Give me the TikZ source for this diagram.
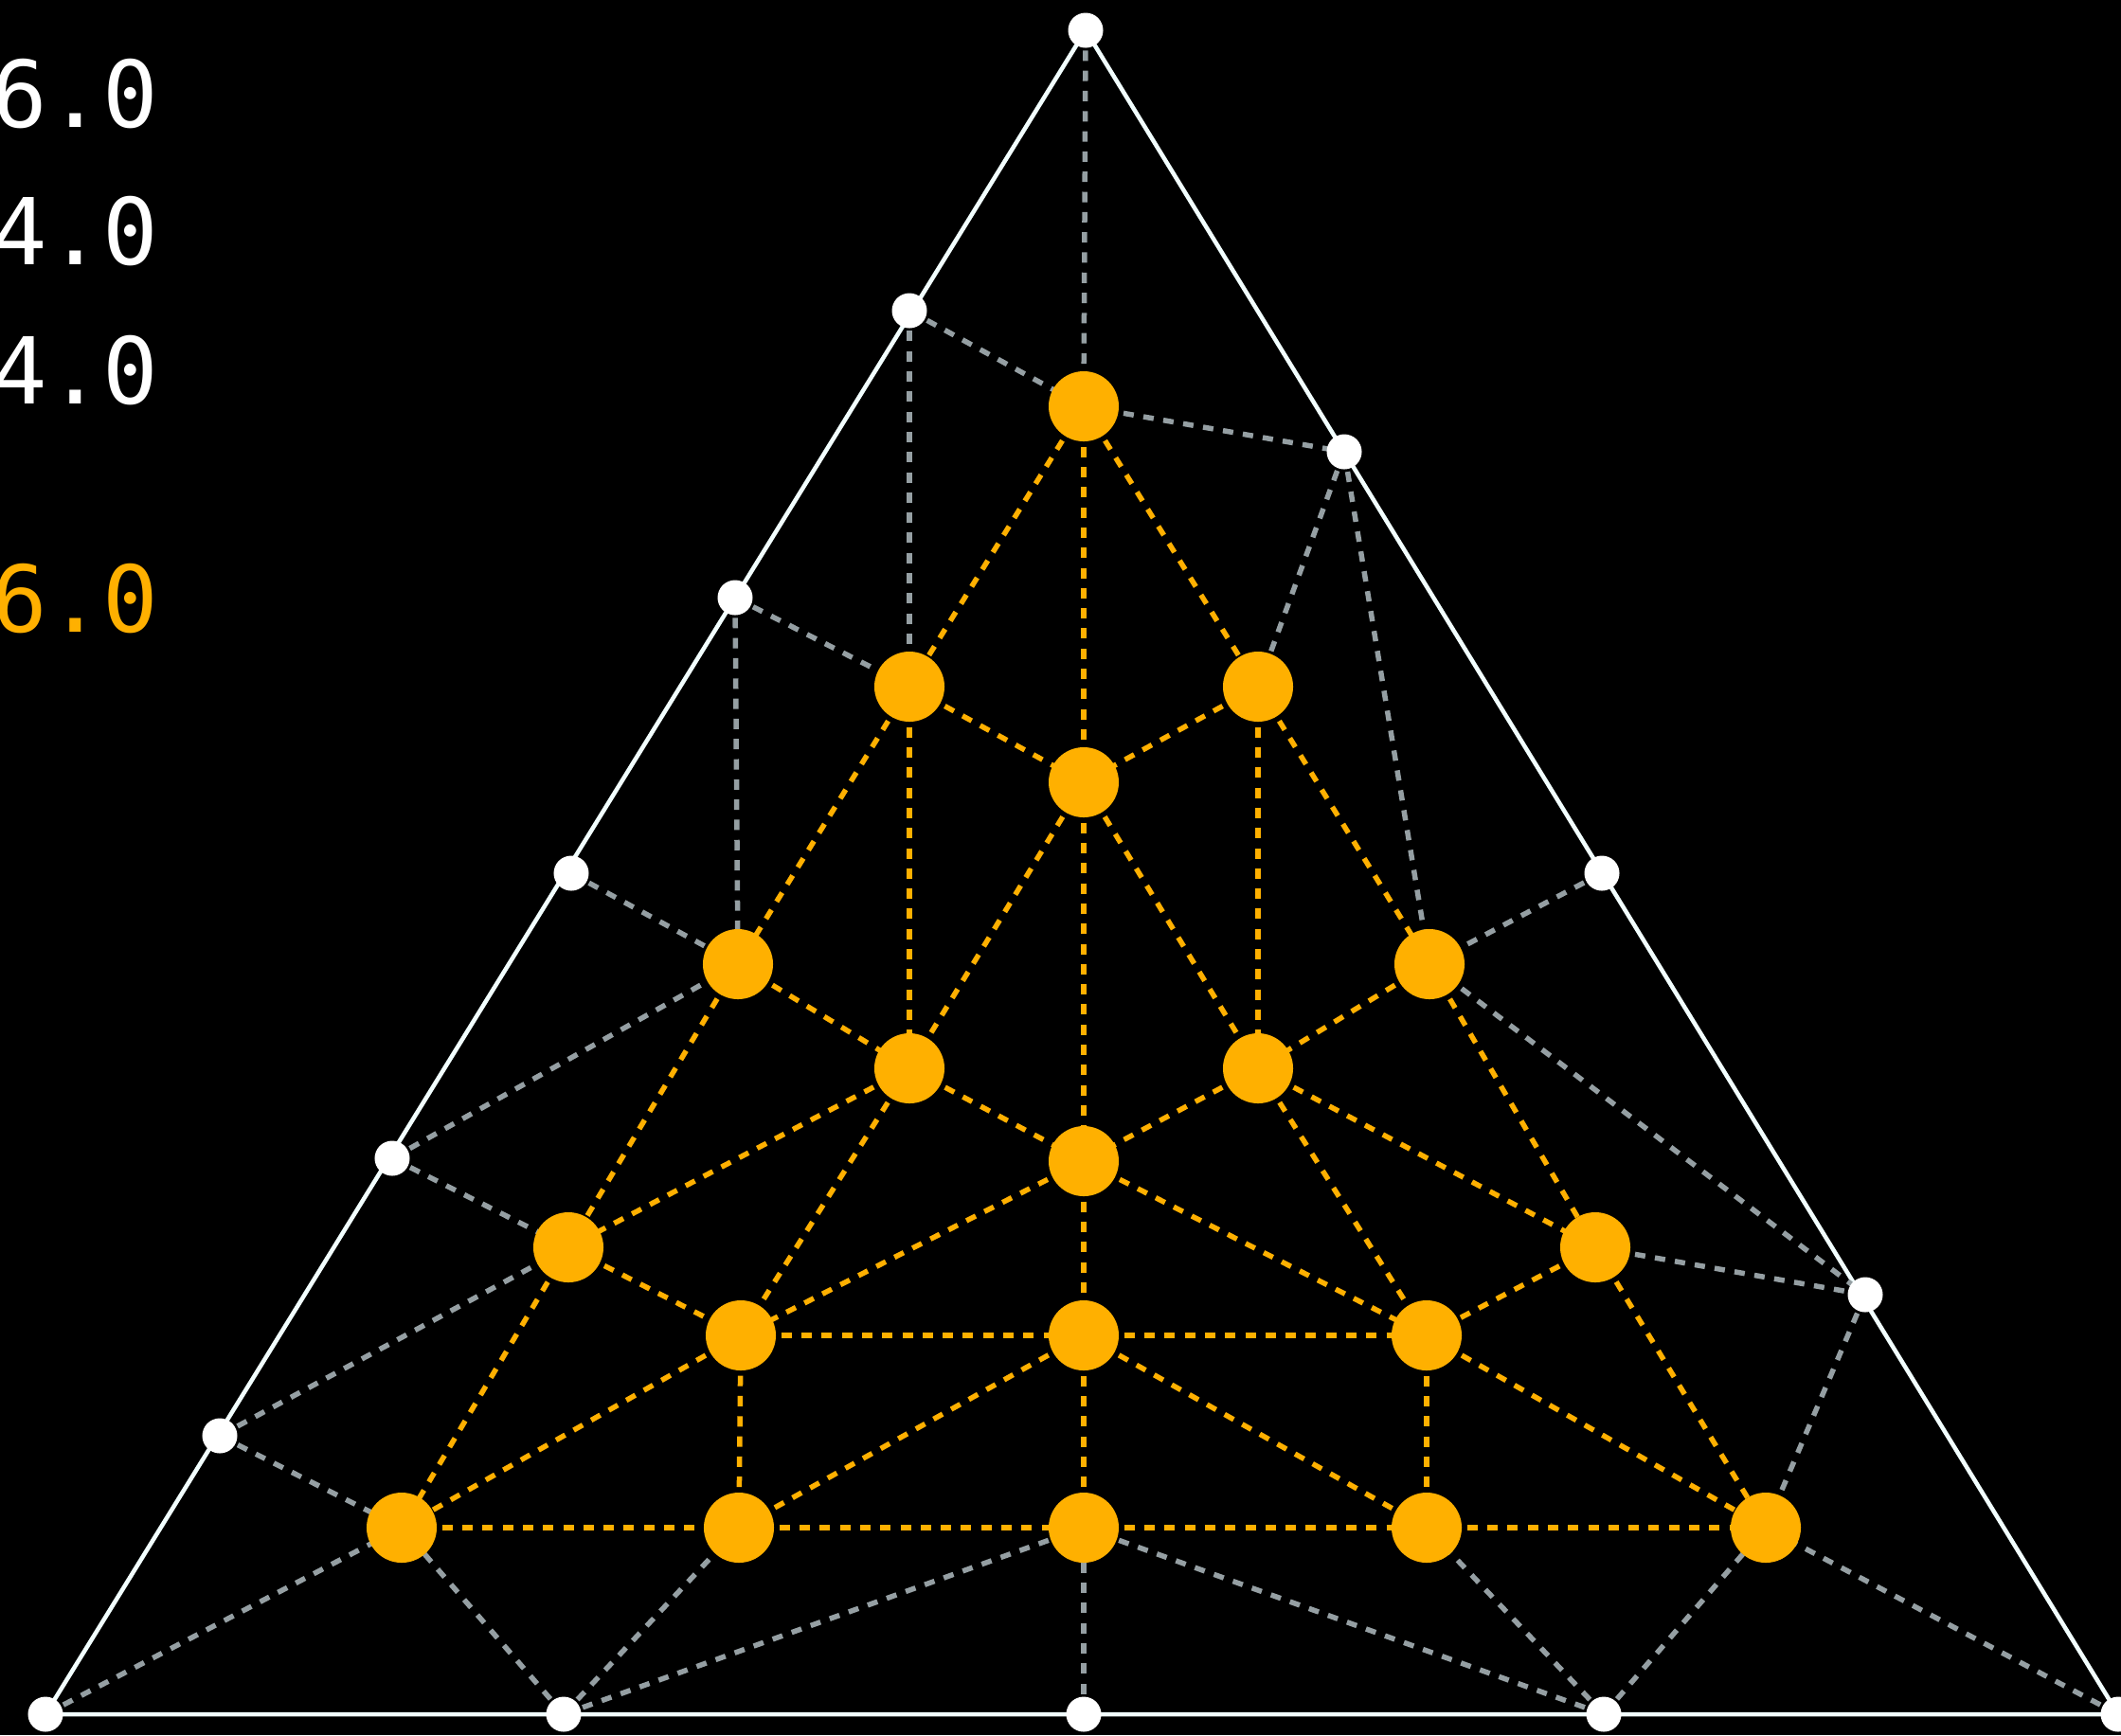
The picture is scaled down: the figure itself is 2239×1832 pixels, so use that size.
\documentclass[tikz,border=0pt]{standalone}
\usepackage{fontspec}
\newfontfamily\monofont{DejaVu Sans Mono}
\definecolor{amber}{HTML}{FFB000}
\definecolor{meshgrey}{HTML}{959FA3}
\definecolor{rim}{HTML}{F2FFFF}
\pgfdeclarelayer{bg}
\pgfdeclarelayer{edges}
\pgfsetlayers{bg,edges,main}
\tikzset{
  inner/.style={circle,fill=amber,draw=none,minimum size=0.74cm,inner sep=0pt},
  outer/.style={circle,fill=white,draw=none,minimum size=0.37cm,inner sep=0pt},
  rimline/.style={draw=rim,line width=0.045cm},
  greyedge/.style={draw=meshgrey,line width=0.055cm,dash pattern=on 0.11cm off 0.103cm},
  amberedge/.style={draw=amber,line width=0.055cm,dash pattern=on 0.11cm off 0.103cm},
  lbl/.style={anchor=base west,inner sep=0pt,font=\monofont\fontsize{27.7pt}{30pt}\selectfont}
}
\begin{document}
\begin{tikzpicture}[x=0.01cm,y=-0.01cm]
\begin{pgfonlayer}{bg}
\fill[black] (0,0) rectangle (2239,1832);
\end{pgfonlayer}
\useasboundingbox (0,0) rectangle (2239,1832);
% labels
\node[lbl,text=white] (t1) at (-9,134) {6.0};
\node[lbl,text=white] (t2) at (-9,279) {4.0};
\node[lbl,text=white] (t3) at (-9,426) {4.0};
\node[lbl,text=amber] (t4) at (-9,667) {6.0};
% boundary nodes
\node[outer] (T) at (1146,32) {};
\node[outer] (BL) at (48,1810) {};
\node[outer] (BR) at (2236,1810) {};
\node[outer] (L1) at (960,328) {};
\node[outer] (L2) at (776,631) {};
\node[outer] (L3) at (603,922) {};
\node[outer] (L4) at (414,1223) {};
\node[outer] (L5) at (232,1516) {};
\node[outer] (B1) at (595,1810) {};
\node[outer] (B2) at (1144,1810) {};
\node[outer] (B3) at (1693,1810) {};
\node[outer] (R1) at (1419,477) {};
\node[outer] (R2) at (1691,922) {};
\node[outer] (R3) at (1969,1367) {};
% interior nodes
\node[inner] (O1) at (1144,429) {};
\node[inner] (O2) at (960,725) {};
\node[inner] (O3) at (1328,725) {};
\node[inner] (O4) at (1144,826) {};
\node[inner] (O5) at (779,1018) {};
\node[inner] (O6) at (1509,1018) {};
\node[inner] (O7) at (960,1128) {};
\node[inner] (O8) at (1328,1128) {};
\node[inner] (O9) at (1144,1226) {};
\node[inner] (O10) at (600,1317) {};
\node[inner] (O11) at (1684,1317) {};
\node[inner] (O12) at (782,1410) {};
\node[inner] (O13) at (1144,1410) {};
\node[inner] (O14) at (1506,1410) {};
\node[inner] (O15) at (424,1613) {};
\node[inner] (O16) at (780,1613) {};
\node[inner] (O17) at (1144,1613) {};
\node[inner] (O18) at (1506,1613) {};
\node[inner] (O19) at (1864,1613) {};
\begin{pgfonlayer}{edges}
% outline
\draw[rimline] (T.center) -- (BL.center) -- (BR.center) -- cycle;
% grey mesh
\foreach \a/\b in {T/O1,L1/O1,O1/R1,L1/O2,R1/O3,R1/O6,L2/O2,L2/O5,R2/O6,L3/O5,L4/O5,L4/O10,O6/R3,O11/R3,L5/O10,L5/O15,R3/O19,BL/O15,B1/O15,B1/O16,B1/O17,B2/O17,B3/O17,B3/O18,B3/O19,BR/O19}
  \draw[greyedge] (\a.center) -- (\b.center);
% amber mesh
\foreach \a/\b in {O1/O2,O1/O4,O1/O3,O2/O4,O3/O4,O2/O5,O2/O7,O3/O6,O3/O8,O4/O7,O4/O9,O4/O8,O5/O7,O5/O10,O6/O8,O6/O11,O7/O9,O8/O9,O7/O10,O7/O12,O8/O14,O8/O11,O9/O12,O9/O13,O9/O14,O10/O12,O10/O15,O11/O14,O11/O19,O12/O13,O13/O14,O12/O16,O14/O18,O12/O15,O14/O19,O13/O16,O13/O17,O13/O18,O15/O16,O16/O17,O17/O18,O18/O19}
  \draw[amberedge] (\a.center) -- (\b.center);
\end{pgfonlayer}
\end{tikzpicture}
\end{document}
